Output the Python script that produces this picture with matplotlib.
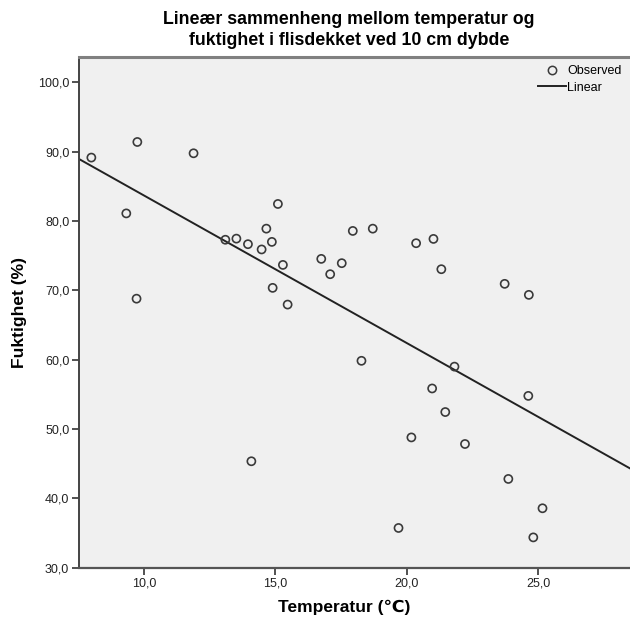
import matplotlib
matplotlib.use("Agg")
import matplotlib.pyplot as plt
from matplotlib.lines import Line2D
import numpy as np

plt.rcParams['font.family'] = ['Liberation Sans', 'DejaVu Sans']

temperature = [8.0, 9.75, 11.89, 9.33, 9.72, 13.10, 13.52, 13.96,
               14.48, 15.10, 14.66, 14.87, 15.29, 14.90, 15.47, 16.75,
               17.09, 17.53, 17.95, 18.71, 20.36, 21.02, 21.32,
               23.73, 24.65, 14.09,
               18.28, 20.97, 21.47, 20.18, 19.69,
               21.82, 24.63, 22.22, 23.87, 25.17, 24.82]
humidity = [89.15, 91.4, 89.77, 81.1, 68.8, 77.3, 77.46, 76.66,
            75.9, 82.46, 78.9, 76.99, 73.67, 70.36, 67.95, 74.54,
            72.33, 73.92, 78.57, 78.9, 76.8, 77.42, 73.05,
            70.94, 69.35, 45.35,
            59.84, 55.85, 52.45, 48.79, 35.73,
            59.0, 54.78, 47.84, 42.8, 38.57, 34.37]
fit_intercept = 104.97
fit_slope = -2.128
xticks = [10.0, 15.0, 20.0, 25.0]
yticks = [30.0, 40.0, 50.0, 60.0, 70.0, 80.0, 90.0, 100.0]

fig = plt.figure(figsize=(6.30, 6.23), dpi=100)
ax = fig.add_axes([79/630, 55.3/623, (630-79)/630, (567.7-56.7)/623])
ax.set_facecolor('#F0F0F0')

xlim = (7.53, 28.5)
ylim = (30.0, 103.7)
ax.set_xlim(*xlim)
ax.set_ylim(*ylim)

xs = np.array(xlim)
ax.plot(xs, fit_intercept + fit_slope * xs, color='#222222', lw=1.4, zorder=2)
ax.scatter(temperature, humidity, s=34, facecolors='none', edgecolors='#3a3a3a',
           linewidths=1.2, zorder=3)

ax.set_xticks(xticks)
ax.set_yticks(yticks)
ax.set_xticklabels([f"{v:.1f}".replace('.', ',') for v in xticks])
ax.set_yticklabels([f"{v:.1f}".replace('.', ',') for v in yticks])
ax.tick_params(direction='out', length=5, width=1.2, color='#333333',
               labelsize=9, labelcolor='#222222', pad=2)

ax.spines['right'].set_visible(False)
ax.spines['top'].set_color('#808080')
ax.spines['top'].set_linewidth(2.2)
ax.spines['left'].set_color('#444444')
ax.spines['left'].set_linewidth(1.4)
ax.spines['bottom'].set_color('#555555')
ax.spines['bottom'].set_linewidth(1.6)

ax.set_xlabel('Temperatur (℃)', fontsize=12.5, fontweight='bold', labelpad=8)
ax.xaxis.set_label_coords((344 - 79) / 551, -0.063)
ax.set_ylabel('Fuktighet (%)', fontsize=12.5, fontweight='bold', labelpad=8)

fig.text(349/630, 1 - 30/623,
         'Lineær sammenheng mellom temperatur og\nfuktighet i flisdekket ved 10 cm dybde',
         ha='center', va='center', fontsize=12.8, fontweight='bold',
         linespacing=1.3)

handles = [Line2D([], [], marker='o', ls='none', mfc='none', mec='#3a3a3a',
                  mew=1.1, ms=6),
           Line2D([], [], color='#222222', lw=1.4)]
leg = ax.legend(handles, ['Observed', 'Linear'], loc='upper right',
                frameon=False, fontsize=9, handlelength=2.3, handletextpad=0.05,
                borderaxespad=0.3, labelspacing=0.35, bbox_to_anchor=(1.0, 1.0))

fig.savefig('out.png', dpi=100)
